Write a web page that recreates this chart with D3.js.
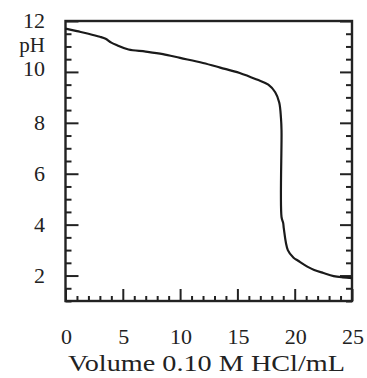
<!DOCTYPE html>
<html>
<head>
<meta charset="utf-8">
<script src="https://cdn.jsdelivr.net/npm/d3@7"></script>
<style>
  body { margin: 0; background: #fff; }
  text { font-family: "Liberation Serif", "DejaVu Serif", serif; fill: #222; }
</style>
</head>
<body>
<div id="vis"></div>
<script>
// titration curve
var volume = [0, 1, 2, 3, 3.5, 4, 4.5, 5.5, 7, 8.5, 10, 12, 13.5, 15.2, 16.7, 17.7, 18.3, 18.65, 18.8, 18.85, 18.85, 19.0, 19.05, 19.4, 19.9, 20.3, 21.1, 21.7, 22.5, 23.4, 24.2, 25];
var pH     = [11.7, 11.6, 11.5, 11.38, 11.3, 11.15, 11.05, 10.88, 10.8, 10.7, 10.55, 10.35, 10.17, 9.96, 9.7, 9.5, 9.2, 8.8, 8.2, 7.7, 4.3, 4.05, 3.85, 3.0, 2.7, 2.58, 2.35, 2.22, 2.1, 1.98, 1.93, 1.9];

var xMajor = [0, 5, 10, 15, 20, 25];
var yMajor = [2, 4, 6, 8, 10, 12];

var W = 367, H = 378;
var margin = {top: 21, right: 15, bottom: 77, left: 65.5};

var svg = d3.select("#vis")
    .append("svg")
    .attr("width", W)
    .attr("height", H);

var x = d3.scaleLinear()
    .domain([0, 25])
    .range([margin.left, W - margin.right]);

var y = d3.scaleLinear()
    .domain([1, 12])
    .range([H - margin.bottom, margin.top]);

var xMinor = d3.range(0, 25.01, 1).filter(function(d) { return xMajor.indexOf(d) < 0; });
var yMinor = d3.range(1, 12.01, 0.5).filter(function(d) { return yMajor.indexOf(d) < 0; });

////////// ticks (inward) //////////

function tickAxis(axis, vals, size, tx, ty) {
  var g = svg.append("g")
      .attr("transform", "translate(" + tx + "," + ty + ")")
      .call(axis.tickValues(vals).tickSize(size).tickFormat(""));
  g.select(".domain").remove();
  g.selectAll("line").attr("stroke", "#222").attr("stroke-width", 2);
}

var bottomY = y.range()[0];
tickAxis(d3.axisBottom(x), xMinor, -5, 0, bottomY);
tickAxis(d3.axisBottom(x), xMajor, -12, 0, bottomY);
tickAxis(d3.axisLeft(y), yMinor, -6, x.range()[0], 0);
tickAxis(d3.axisLeft(y), yMajor, -13, x.range()[0], 0);
tickAxis(d3.axisRight(y), yMinor, -6, x.range()[1], 0);
tickAxis(d3.axisRight(y), yMajor, -12, x.range()[1], 0);

// frame
svg.append("rect")
    .attr("x", x.range()[0])
    .attr("y", y.range()[1])
    .attr("width", x.range()[1] - x.range()[0])
    .attr("height", y.range()[0] - y.range()[1])
    .attr("fill", "none")
    .attr("stroke", "#222")
    .attr("stroke-width", 2.4);

////////// labels //////////

svg.append("g").selectAll("text")
    .data(xMajor)
    .enter()
    .append("text")
    .attr("x", function(d) { return x(d) + 1; })
    .attr("y", 344)
    .attr("text-anchor", "middle")
    .attr("font-size", 22)
    .text(function(d) { return d; });

svg.append("g").selectAll("text")
    .data(yMajor)
    .enter()
    .append("text")
    .attr("x", 45)
    .attr("y", function(d) { return d == 10 ? y(d) + 4 : y(d) + 7; })
    .attr("text-anchor", "end")
    .attr("font-size", 22)
    .text(function(d) { return d; });

svg.append("text")
    .attr("x", 45)
    .attr("y", 52)
    .attr("text-anchor", "end")
    .attr("font-size", 21)
    .text("pH");

svg.append("text")
    .attr("x", 68)
    .attr("y", 371)
    .attr("font-size", 23)
    .attr("textLength", 277)
    .attr("lengthAdjust", "spacingAndGlyphs")
    .text("Volume 0.10 M HCl/mL");

////////// curve //////////

var data = volume.map(function(v, i) { return {v: v, p: pH[i]}; });

var line = d3.line()
    .x(function(d) { return x(d.v); })
    .y(function(d) { return y(d.p); })
    .curve(d3.curveCatmullRom.alpha(0.5));

svg.append("path")
    .datum(data)
    .attr("d", line)
    .attr("fill", "none")
    .attr("stroke", "#1a1a1a")
    .attr("stroke-width", 2.2)
    .attr("stroke-linejoin", "round");
</script>
</body>
</html>
